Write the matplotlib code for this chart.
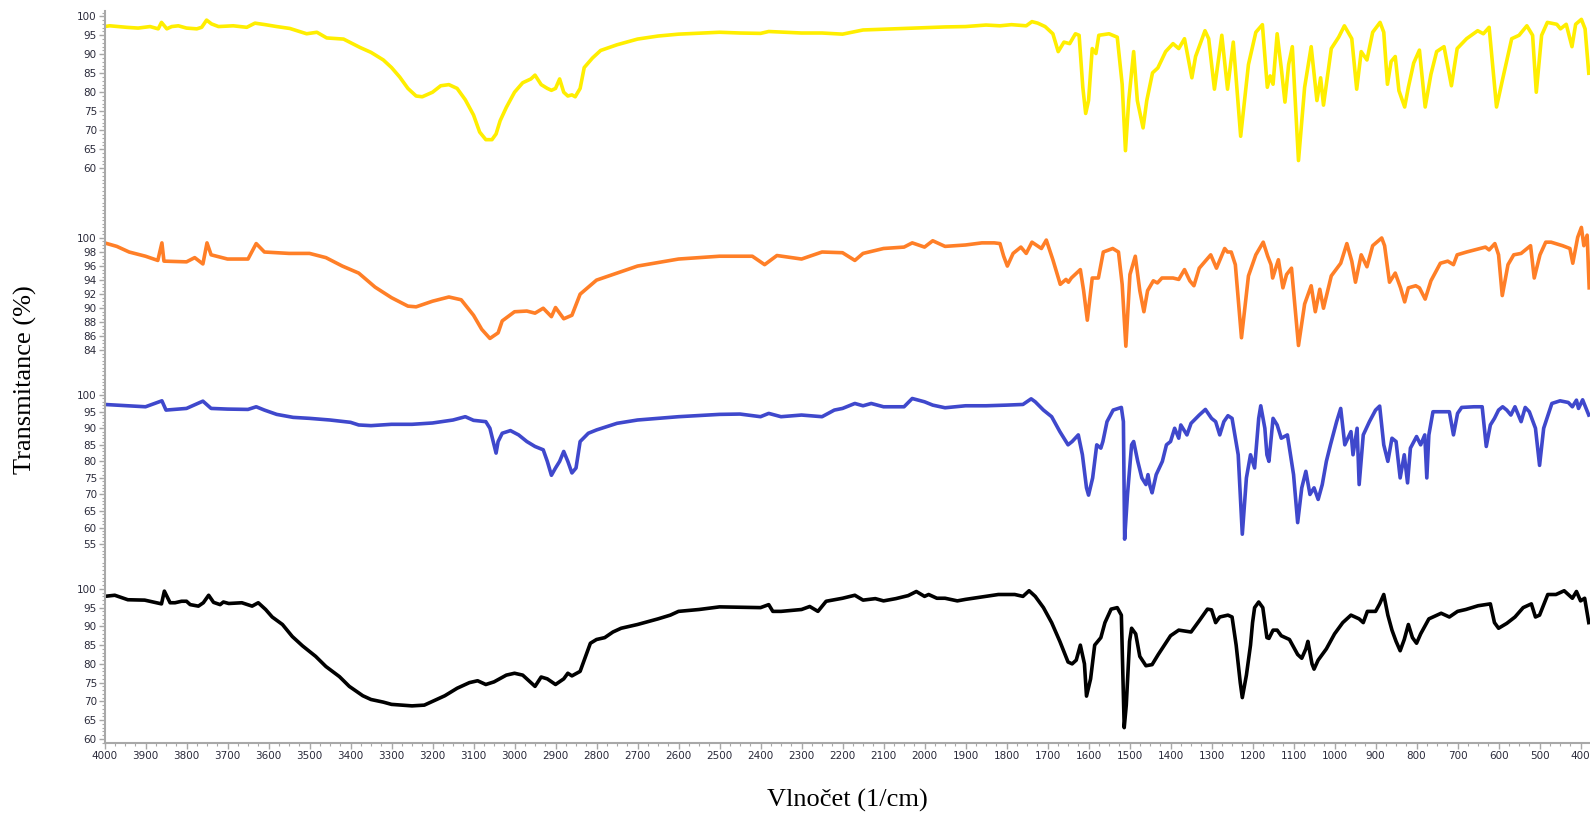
import numpy as np
import matplotlib
matplotlib.use('Agg')
import matplotlib.pyplot as plt
from matplotlib.ticker import MultipleLocator, FixedLocator

# ---- data (wavenumber 1/cm, transmittance %) ----
yellow_wn = [4000, 3987, 3946, 3918, 3889, 3869, 3861, 3848, 3836, 3820, 3800, 3775, 3763, 3751, 3739, 3722,
             3686, 3653, 3633, 3608, 3580, 3548, 3507, 3482, 3458, 3417, 3377, 3350, 3320, 3300, 3280, 3260,
             3240, 3225, 3200, 3180, 3160, 3140, 3120, 3100, 3085, 3070, 3055, 3045, 3035, 3020, 3000, 2980,
             2960, 2950, 2935, 2920, 2910, 2900, 2890, 2880, 2870, 2860, 2852, 2840, 2830, 2810, 2790, 2750,
             2700, 2650, 2600, 2500, 2450, 2400, 2380, 2300, 2250, 2200, 2150, 2100, 2000, 1950, 1900, 1850,
             1816, 1788, 1752, 1738, 1724, 1706, 1687, 1674, 1660, 1646, 1632, 1623, 1614, 1607, 1600, 1591,
             1582, 1575, 1550, 1530, 1518, 1510, 1502, 1490, 1481, 1467, 1458, 1444, 1431, 1412, 1394, 1380,
             1366, 1348, 1339, 1316, 1307, 1293, 1275, 1261, 1247, 1229, 1210, 1192, 1176, 1164, 1157, 1150,
             1140, 1130, 1121, 1112, 1103, 1088, 1073, 1057, 1043, 1034, 1027, 1008, 990, 976, 958, 946,
             935, 921, 907, 889, 880, 871, 862, 852, 843, 829, 820, 807, 793, 779, 765, 751,
             733, 715, 701, 678, 651, 637, 623, 605, 591, 568, 550, 531, 517, 508, 495, 481,
             458, 449, 435, 421, 412, 398, 389, 380]
yellow_t = [97.3, 97.5, 97.1, 96.9, 97.3, 96.7, 98.4, 96.7, 97.3, 97.5, 96.9, 96.7, 97.1, 99.0, 98.0, 97.3,
            97.5, 97.1, 98.2, 97.8, 97.3, 96.8, 95.4, 95.8, 94.3, 94.0, 91.8, 90.5, 88.5, 86.5, 84.0, 81.0,
            79.0, 78.8, 80.0, 81.7, 82.0, 81.0, 78.0, 74.0, 69.5, 67.5, 67.5, 69.0, 72.5, 76.0, 80.0, 82.5,
            83.5, 84.5, 82.0, 81.0, 80.5, 81.0, 83.5, 80.0, 79.0, 79.3, 78.8, 81.0, 86.5, 89.0, 91.0, 92.5,
            94.0, 94.8, 95.3, 95.8, 95.6, 95.5, 96.0, 95.6, 95.6, 95.3, 96.4, 96.6, 97.0, 97.2, 97.3, 97.7,
            97.5, 97.8, 97.5, 98.6, 98.2, 97.3, 95.4, 90.7, 93.2, 92.8, 95.4, 95.0, 81.3, 74.4, 77.8, 91.5,
            90.2, 95.0, 95.4, 94.5, 82.1, 64.6, 77.8, 90.7, 77.8, 70.6, 77.8, 85.1, 86.4, 90.7, 92.8, 91.5,
            94.1, 83.8, 89.4, 96.2, 94.1, 80.8, 95.0, 80.8, 93.2, 68.4, 87.3, 95.8, 97.8, 81.3, 84.3, 82.1,
            95.4, 86.4, 77.4, 87.3, 92.0, 62.0, 81.3, 92.0, 77.8, 83.8, 76.6, 91.5, 94.5, 97.5, 94.1, 80.8,
            90.7, 88.5, 95.8, 98.4, 95.8, 82.1, 88.1, 89.4, 80.4, 76.1, 81.3, 87.7, 91.1, 76.1, 84.7, 90.7,
            92.0, 81.7, 91.5, 94.1, 96.2, 95.4, 97.1, 76.1, 83.0, 94.1, 95.0, 97.5, 95.0, 80.0, 95.0, 98.4,
            97.9, 96.7, 97.9, 92.0, 97.9, 99.2, 96.7, 85.0]

orange_wn = [4000, 3970, 3940, 3900, 3870, 3860, 3855, 3800, 3780, 3760, 3750, 3740, 3700, 3650, 3630, 3610,
             3550, 3500, 3460, 3420, 3380, 3340, 3300, 3260, 3240, 3200, 3160, 3130, 3100, 3080, 3060, 3040,
             3030, 3000, 2970, 2950, 2930, 2910, 2900, 2880, 2860, 2840, 2800, 2700, 2600, 2500, 2420, 2390,
             2360, 2300, 2250, 2200, 2170, 2150, 2100, 2050, 2030, 2000, 1980, 1950, 1900, 1860, 1830,
             1816, 1807, 1798, 1784, 1765, 1752, 1738, 1715, 1703, 1687, 1669, 1655, 1649, 1642, 1620, 1612,
             1603, 1591, 1576, 1564, 1541, 1527, 1518, 1509, 1499, 1486, 1475, 1465, 1456, 1442, 1432, 1421,
             1394, 1380, 1366, 1353, 1343, 1330, 1302, 1288, 1268, 1261, 1252, 1242, 1227, 1210, 1192, 1174,
             1163, 1155, 1151, 1137, 1126, 1117, 1105, 1088, 1073, 1057, 1047, 1036, 1027, 1008, 985, 970,
             958, 949, 935, 921, 907, 885, 878, 866, 852, 839, 829, 820, 802, 793, 779, 765,
             742, 724, 710, 701, 678, 632, 623, 609, 600, 591, 577, 563, 545, 522, 513, 499,
             485, 472, 444, 426, 419, 407, 398, 392, 384, 379]
orange_t = [99.3, 98.8, 98.0, 97.4, 96.8, 99.3, 96.7, 96.6, 97.2, 96.3, 99.3, 97.6, 97.0, 97.0, 99.2, 98.0,
            97.8, 97.8, 97.2, 96.0, 95.0, 93.0, 91.5, 90.3, 90.2, 91.0, 91.6, 91.2, 89.0, 87.0, 85.7, 86.5,
            88.2, 89.5, 89.6, 89.3, 90.0, 88.8, 90.1, 88.5, 89.0, 92.0, 94.0, 96.0, 97.0, 97.4, 97.4, 96.2,
            97.5, 97.0, 98.0, 97.9, 96.8, 97.8, 98.5, 98.7, 99.3, 98.7, 99.6, 98.8, 99.0, 99.3, 99.3,
            99.2, 97.4, 96.0, 97.8, 98.7, 97.8, 99.4, 98.5, 99.7, 96.9, 93.4, 94.1, 93.7, 94.3, 95.5, 92.5,
            88.3, 94.3, 94.3, 98.0, 98.5, 98.0, 93.4, 84.6, 94.8, 97.4, 92.5, 89.5, 92.5, 93.9, 93.6, 94.3,
            94.3, 94.1, 95.5, 93.9, 93.2, 95.7, 97.6, 95.7, 98.5, 98.0, 98.0, 96.2, 85.8, 94.6, 97.6, 99.4,
            97.4, 96.2, 94.3, 96.9, 92.9, 94.8, 95.7, 84.7, 90.6, 93.2, 89.5, 92.7, 90.0, 94.6, 96.4, 99.2,
            96.7, 93.7, 97.6, 95.9, 98.9, 100.0, 98.9, 93.7, 95.0, 92.9, 90.9, 92.9, 93.2, 92.9, 91.3, 93.9,
            96.4, 96.7, 96.2, 97.6, 98.0, 98.7, 98.3, 99.2, 97.6, 91.8, 96.2, 97.6, 97.8, 98.9, 94.3, 97.6,
            99.4, 99.4, 98.9, 98.5, 96.4, 100.1, 101.5, 98.9, 100.4, 92.9]

blue_wn = [4000, 3900, 3860, 3850, 3800, 3760, 3740, 3700, 3650, 3630, 3610, 3580, 3540, 3500, 3450, 3400,
           3380, 3350, 3300, 3250, 3200, 3150, 3120, 3100, 3070, 3060, 3050, 3045, 3040, 3030, 3010, 2990,
           2970, 2950, 2930, 2920, 2910, 2900, 2890, 2880, 2870, 2860, 2850, 2840, 2820, 2800, 2750, 2700,
           2600, 2500, 2450, 2400, 2380, 2350, 2300, 2250, 2220, 2200, 2170, 2150, 2130, 2100, 2050, 2030,
           2000, 1980, 1950, 1900, 1850, 1800, 1760, 1740, 1730, 1710, 1690, 1670, 1650, 1640, 1625, 1615,
           1605, 1600, 1590, 1580, 1570, 1565, 1555, 1540, 1520, 1515, 1512, 1505, 1495, 1490, 1480, 1470,
           1460, 1455, 1450, 1445, 1435, 1420, 1410, 1400, 1390, 1380, 1375, 1360, 1350, 1330, 1315, 1300,
           1290, 1280, 1270, 1260, 1250, 1235, 1225, 1215, 1205, 1195, 1185, 1180, 1170, 1165, 1160, 1150,
           1140, 1130, 1115, 1100, 1090, 1080, 1070, 1060, 1050, 1040, 1030, 1020, 1010, 995, 985, 975,
           960, 955, 945, 940, 930, 915, 900, 890, 880, 870, 860, 850, 840, 830, 822, 815,
           800, 790, 780, 775, 770, 760, 740, 720, 710, 700, 690, 660, 640, 630, 620, 610,
           600, 590, 580, 570, 560, 545, 535, 525, 510, 500, 490, 470, 450, 430, 420, 410,
           405, 395, 385, 380]
blue_t = [97.2, 96.5, 98.3, 95.5, 96.0, 98.2, 96.0, 95.8, 95.7, 96.5, 95.5, 94.2, 93.3, 93.0, 92.5, 91.8,
          91.0, 90.8, 91.2, 91.2, 91.6, 92.5, 93.5, 92.4, 92.0, 90.0, 85.0, 82.5, 86.0, 88.5, 89.3, 88.0,
          86.0, 84.5, 83.5, 80.0, 75.8, 78.0, 80.0, 83.0, 80.0, 76.5, 78.0, 86.0, 88.5, 89.5, 91.5, 92.5,
          93.5, 94.2, 94.3, 93.5, 94.5, 93.5, 94.0, 93.5, 95.5, 96.0, 97.5, 96.8, 97.5, 96.5, 96.5, 99.0,
          98.0, 97.0, 96.2, 96.8, 96.8, 97.0, 97.2, 98.9, 98.0, 95.5, 93.5, 89.0, 85.0, 86.0, 88.0, 82.0,
          72.0, 69.8, 75.0, 85.0, 84.0, 86.0, 92.0, 95.5, 96.3, 92.0, 56.5, 70.0, 85.0, 86.0, 80.0, 75.0,
          73.0, 76.0, 72.5, 70.5, 76.0, 80.0, 85.0, 86.0, 90.0, 87.0, 91.0, 88.0, 91.5, 94.0, 95.7, 93.0,
          92.0, 88.0, 92.0, 93.8, 93.0, 82.0, 58.0, 75.0, 82.0, 78.0, 93.0, 96.8, 90.0, 82.0, 80.0, 93.0,
          91.0, 87.0, 88.0, 76.0, 61.5, 72.0, 77.0, 70.0, 72.0, 68.5, 73.0, 80.0, 85.0, 92.0, 96.0, 85.0,
          89.0, 82.0, 90.0, 73.0, 88.0, 92.0, 95.5, 96.7, 85.0, 80.0, 87.0, 86.0, 75.0, 82.0, 73.5, 84.0,
          87.5, 85.0, 88.0, 75.0, 88.0, 95.0, 95.0, 95.0, 88.0, 94.5, 96.3, 96.5, 96.5, 84.5, 91.0, 93.0,
          95.5, 96.5, 95.5, 94.0, 96.5, 92.0, 96.3, 95.0, 90.0, 78.8, 90.0, 97.5, 98.3, 97.8, 96.5, 98.5,
          96.0, 98.6, 95.5, 94.0]

black_wn = [4000, 3975, 3943, 3902, 3877, 3861, 3854, 3846, 3840, 3828, 3812, 3800, 3791, 3771, 3759, 3746,
            3734, 3718, 3710, 3697, 3665, 3640, 3625, 3607, 3591, 3566, 3542, 3517, 3485, 3460, 3427, 3403,
            3370, 3350, 3320, 3300, 3250, 3220, 3200, 3170, 3140, 3110, 3090, 3070, 3050, 3020, 3000, 2980,
            2960, 2950, 2935, 2920, 2900, 2880, 2870, 2860, 2840, 2830, 2815, 2800, 2780, 2760, 2740, 2700,
            2650, 2620, 2600, 2550, 2500, 2450, 2400, 2380, 2370, 2350, 2300, 2280, 2260, 2240, 2200, 2170,
            2150, 2120, 2100, 2070, 2040, 2020, 2000, 1990, 1970, 1950, 1920, 1900, 1850, 1820, 1780, 1760,
            1745, 1730, 1710, 1690, 1670, 1650, 1640, 1630, 1620, 1610, 1605, 1595, 1585, 1570, 1560, 1545,
            1530, 1520, 1513, 1508, 1500, 1495, 1485, 1475, 1460, 1445, 1430, 1400, 1380, 1350, 1330, 1310,
            1300, 1290, 1280, 1260, 1250, 1240, 1230, 1225, 1215, 1205, 1200, 1195, 1185, 1175, 1165, 1160,
            1150, 1140, 1130, 1110, 1100, 1090, 1080, 1070, 1065, 1055, 1050, 1040, 1020, 1000, 980, 960,
            940, 930, 920, 900, 890, 880, 870, 860, 850, 840, 830, 820, 810, 800, 790, 780,
            770, 740, 720, 700, 680, 650, 620, 610, 600, 580, 560, 540, 520, 510, 500, 480,
            460, 440, 420, 410, 400, 390, 380]
black_t = [98.0, 98.3, 97.1, 97.0, 96.4, 96.0, 99.4, 97.6, 96.3, 96.3, 96.7, 96.7, 95.8, 95.4, 96.3, 98.3,
           96.4, 95.8, 96.5, 96.1, 96.3, 95.4, 96.3, 94.5, 92.5, 90.5, 87.3, 84.8, 82.0, 79.3, 76.6, 74.0,
           71.5, 70.5, 69.8, 69.2, 68.8, 69.0, 70.0, 71.5, 73.5, 75.0, 75.5, 74.5, 75.2, 77.0, 77.5, 77.0,
           75.0, 74.0, 76.5, 76.0, 74.5, 76.0, 77.5, 76.8, 78.0, 81.0, 85.5, 86.5, 87.0, 88.5, 89.5, 90.5,
           92.0, 93.0, 94.0, 94.5, 95.2, 95.1, 95.0, 95.8, 94.0, 94.0, 94.5, 95.3, 94.0, 96.7, 97.5, 98.3,
           97.0, 97.4, 96.8, 97.4, 98.2, 99.3, 98.0, 98.5, 97.5, 97.5, 96.8, 97.2, 98.0, 98.5, 98.5, 98.0,
           99.5, 98.0, 95.0, 91.0, 86.0, 80.5, 80.0, 81.0, 85.0, 80.0, 71.4, 76.0, 85.0, 87.0, 91.0, 94.6,
           95.0, 93.0, 63.0, 69.0, 86.0, 89.5, 88.0, 82.0, 79.5, 79.8, 82.5, 87.5, 89.0, 88.5, 91.5, 94.6,
           94.4, 91.0, 92.5, 93.0, 92.5, 85.0, 75.0, 71.0, 77.0, 85.0, 91.0, 95.0, 96.5, 95.0, 87.0, 86.8,
           89.0, 89.0, 87.5, 86.5, 84.5, 82.5, 81.5, 84.0, 86.0, 80.0, 78.6, 81.0, 84.0, 88.0, 91.0, 93.0,
           92.0, 91.0, 94.0, 94.0, 96.0, 98.5, 93.0, 89.0, 86.0, 83.5, 86.5, 90.5, 87.0, 85.5, 88.0, 90.0,
           92.0, 93.5, 92.5, 94.0, 94.5, 95.5, 96.0, 91.0, 89.5, 90.8, 92.5, 95.0, 96.0, 92.5, 93.0, 98.5,
           98.5, 99.5, 97.5, 99.3, 96.8, 97.5, 91.0]

# ---- layout ----
W, H = 1590, 825
fig = plt.figure(figsize=(W / 100, H / 100), dpi=100)

x_left = 104.5
x_right = W
# (wn, t, colour, top px, bottom px, ylim, major ticks, minor step)
panels = [
    (yellow_wn, yellow_t, '#FFEE00', 11, 200, (51.6, 101.4), np.arange(60, 101, 5), 1),
    (orange_wn, orange_t, '#FF7F27', 200, 375, (80.5, 105.4), np.arange(84, 101, 2), 0.5),
    (blue_wn, blue_t, '#3F48CC', 375, 560, (50.2, 106.1), np.arange(55, 101, 5), 1),
    (black_wn, black_t, '#000000', 560, 743, (58.9, 107.7), np.arange(60, 101, 5), 1),
]

axis_col = '#a8a8a8'
label_col = '#2a2a3a'

for i, (wn, t, col, top, bot, ylim, majors, minor) in enumerate(panels):
    ax = fig.add_axes([x_left / W, 1 - bot / H, (x_right - x_left) / W, (bot - top) / H])
    ax.plot(wn, t, color=col, lw=2.6, solid_joinstyle='round')
    ax.set_xlim(4000, 377)
    ax.set_ylim(*ylim)
    ax.patch.set_alpha(0)
    ax.yaxis.set_major_locator(FixedLocator(majors))
    ax.yaxis.set_minor_locator(MultipleLocator(minor))
    ax.tick_params(axis='y', which='major', direction='out', length=4, width=1,
                   color=axis_col, labelsize=7.5, labelcolor=label_col, pad=1.5)
    ax.tick_params(axis='y', which='minor', direction='out', length=2.5, width=0.8, color=axis_col)
    for s in ['top', 'right']:
        ax.spines[s].set_visible(False)
    ax.spines['left'].set_color(axis_col)
    ax.spines['left'].set_linewidth(1.5)
    if i < 3:
        ax.spines['bottom'].set_visible(False)
        ax.tick_params(axis='x', which='both', bottom=False, labelbottom=False)
    else:
        ax.spines['bottom'].set_color(axis_col)
        ax.spines['bottom'].set_linewidth(1.5)
        ax.xaxis.set_major_locator(MultipleLocator(100))
        ax.xaxis.set_minor_locator(MultipleLocator(25))
        ax.tick_params(axis='x', which='major', direction='out', length=4, width=1,
                       color=axis_col, labelsize=7.5, labelcolor=label_col, pad=2)
        ax.tick_params(axis='x', which='minor', direction='out', length=2.5, width=0.8, color=axis_col)

fig.text(25 / W, 1 - 380 / H, 'Transmitance (%)', rotation=90, ha='center', va='center',
         family='Liberation Serif', fontsize=19)
fig.text(847 / W, 1 - 800 / H, 'Vlnočet (1/cm)', ha='center', va='center',
         family='Liberation Serif', fontsize=19)

fig.savefig('out.png', dpi=100)
